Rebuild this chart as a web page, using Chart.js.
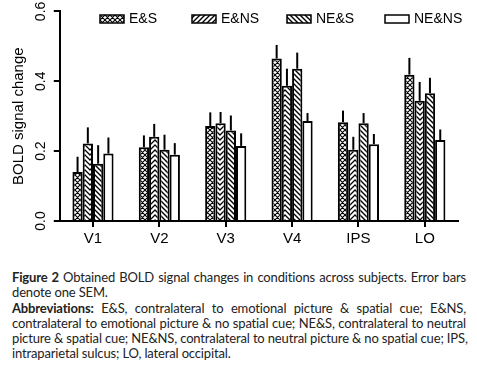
<!DOCTYPE html>
<html>
<head>
<meta charset="utf-8">
<script src="https://cdn.jsdelivr.net/npm/chart.js@4"></script>
<style>
  html, body { margin: 0; padding: 0; background: #fff; }
  #wrap { position: relative; width: 477px; height: 258px; }
  #caption { position: absolute; left: 12px; top: 270px; width: 454px;
    font-family: Lato, "Open Sans", sans-serif; font-size: 13px; letter-spacing: -0.15px; color: #222; }
  #caption div { height: 15.3px; line-height: 15.3px; white-space: nowrap; }
  #caption .j { text-align: justify; text-align-last: justify; }
  #caption b { font-weight: 700; }
</style>
</head>
<body>
<div id="wrap"><canvas id="chart"></canvas></div>
<div id="caption">
  <div class="j"><b>Figure 2</b> Obtained BOLD signal changes in conditions across subjects. Error bars</div>
  <div>denote one SEM.</div>
  <div class="j"><b>Abbreviations:</b> E&amp;S, contralateral to emotional picture &amp; spatial cue; E&amp;NS,</div>
  <div class="j">contralateral to emotional picture &amp; no spatial cue; NE&amp;S, contralateral to neutral</div>
  <div class="j">picture &amp; spatial cue; NE&amp;NS, contralateral to neutral picture &amp; no spatial cue; IPS,</div>
  <div>intraparietal sulcus; LO, lateral occipital.</div>
</div>
<script>
// categories and series (mean + SEM)
const regions = ['V1', 'V2', 'V3', 'V4', 'IPS', 'LO'];
const seriesNames = ['E&S', 'E&NS', 'NE&S', 'NE&NS'];

const esMean = [0.140, 0.211, 0.272, 0.465, 0.283, 0.419];
const esSem  = [0.044, 0.034, 0.039, 0.039, 0.033, 0.048];
const ensMean = [0.222, 0.241, 0.280, 0.387, 0.204, 0.344];
const ensSem  = [0.046, 0.037, 0.032, 0.049, 0.037, 0.054];
const nesMean = [0.164, 0.204, 0.259, 0.436, 0.280, 0.366];
const nesSem  = [0.053, 0.043, 0.043, 0.046, 0.029, 0.044];
const nensMean = [0.193, 0.190, 0.215, 0.286, 0.220, 0.232];
const nensSem  = [0.046, 0.033, 0.036, 0.023, 0.029, 0.030];

const yTicks = [0.0, 0.2, 0.4, 0.6];

// hatch patterns
function makePattern(kind) {
  const c = document.createElement('canvas');
  const ctx = c.getContext('2d');
  let w = 5, h = 5;
  if (kind === 'chevron') { w = 10; h = 5; }
  c.width = w; c.height = h;
  ctx.fillStyle = '#fff';
  ctx.fillRect(0, 0, w, h);
  ctx.strokeStyle = '#000';
  ctx.lineCap = 'square';
  ctx.beginPath();
  if (kind === 'cross') {
    ctx.lineWidth = 1.1;
    for (let o = -w; o <= w; o += w) {
      ctx.moveTo(o, 0); ctx.lineTo(o + w, h);
      ctx.moveTo(o, h); ctx.lineTo(o + w, 0);
    }
  } else if (kind === 'back') {
    ctx.lineWidth = 1.4;
    for (let o = -w; o <= w; o += w) {
      ctx.moveTo(o, 0); ctx.lineTo(o + w, h);
    }
  } else if (kind === 'fwd') {
    ctx.lineWidth = 1.4;
    for (let o = -w; o <= w; o += w) {
      ctx.moveTo(o, h); ctx.lineTo(o + w, 0);
    }
  } else if (kind === 'chevron') {
    ctx.lineWidth = 1.3;
    for (let o = -h; o <= h; o += h) {
      ctx.moveTo(0, o + h); ctx.lineTo(w / 2, o); ctx.lineTo(w, o + h);
    }
  }
  ctx.stroke();
  return ctx.createPattern(c, 'repeat');
}

const fills = [makePattern('cross'), makePattern('chevron'), makePattern('back'), '#fff'];
const legendFills = [makePattern('cross'), makePattern('fwd'), makePattern('back'), '#fff'];
const means = [esMean, ensMean, nesMean, nensMean];
const sems = [esSem, ensSem, nesSem, nensSem];

// vertical error lines above each bar (no caps)
const errorBars = {
  id: 'errorBars',
  afterDatasetsDraw(chart) {
    const ctx = chart.ctx;
    const y = chart.scales.y;
    ctx.save();
    ctx.strokeStyle = '#000';
    ctx.lineWidth = 2;
    chart.data.datasets.forEach((ds, di) => {
      const meta = chart.getDatasetMeta(di);
      meta.data.forEach((bar, i) => {
        const top = y.getPixelForValue(ds.data[i] + ds.sem[i]);
        ctx.beginPath();
        ctx.moveTo(bar.x, bar.y);
        ctx.lineTo(bar.x, top);
        ctx.stroke();
      });
    });
    ctx.restore();
  }
};

// legend row inside the plot, near the top
const legendX = [100, 192, 287, 385];
const topLegend = {
  id: 'topLegend',
  afterDraw(chart) {
    const ctx = chart.ctx;
    ctx.save();
    ctx.font = '14px "Liberation Sans", Arial, sans-serif';
    ctx.textBaseline = 'middle';
    seriesNames.forEach((name, i) => {
      const x = legendX[i], yc = 19;
      ctx.fillStyle = legendFills[i];
      ctx.fillRect(x, yc - 4, 24, 8);
      ctx.strokeStyle = '#000';
      ctx.lineWidth = 1.5;
      ctx.strokeRect(x, yc - 4, 24, 8);
      ctx.fillStyle = '#000';
      ctx.fillText(name, x + 29, yc);
    });
    ctx.restore();
  }
};

const datasets = seriesNames.map((name, i) => ({
  label: name,
  data: means[i],
  sem: sems[i],
  backgroundColor: fills[i],
  borderColor: '#000',
  borderWidth: 2,
  categoryPercentage: 0.62,
  barPercentage: 1.0
}));

new Chart(document.getElementById('chart'), {
  type: 'bar',
  data: { labels: regions, datasets: datasets },
  options: {
    responsive: true,
    maintainAspectRatio: false,
    animation: false,
    layout: { padding: { left: 7, right: 19, top: 9, bottom: 7 } },
    plugins: {
      legend: { display: false },
      tooltip: { enabled: false }
    },
    scales: {
      x: {
        grid: { display: true, drawOnChartArea: false, offset: false, color: '#000', lineWidth: 2, tickLength: 6 },
        border: { color: '#000', width: 2 },
        ticks: { color: '#000', padding: 3, font: { family: '"Liberation Sans", Arial', size: 15 } }
      },
      y: {
        min: 0,
        max: 0.6,
        afterBuildTicks(scale) { scale.ticks = yTicks.map(v => ({ value: v })); },
        grid: { display: true, drawOnChartArea: false, color: '#000', lineWidth: 2, tickLength: 6 },
        border: { color: '#000', width: 2 },
        ticks: {
          color: '#000',
          padding: 3,
          minRotation: 90,
          maxRotation: 90,
          crossAlign: 'center',
          font: { family: '"Liberation Sans", Arial', size: 14 },
          callback: v => v.toFixed(1)
        },
        title: {
          display: true,
          text: 'BOLD signal change',
          color: '#000',
          padding: { top: 3, bottom: 3 },
          font: { family: '"Liberation Sans", Arial', size: 15 }
        }
      }
    }
  },
  plugins: [errorBars, topLegend]
});
</script>
</body>
</html>
